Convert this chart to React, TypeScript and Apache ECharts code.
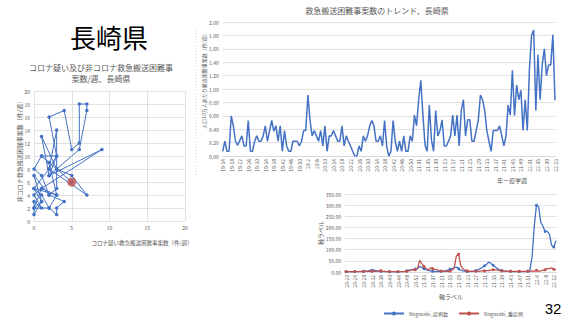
import React, { useEffect, useRef } from "react";
import * as echarts from "echarts";

// ---- Scatter (left): corona-suspected (x) vs non-corona (y) difficult transports / week
const scatterX = [0, 1, 0, 0, 1, 0, 1, 0, 2, 1, 0, 1, 0, 2, 1, 0, 1, 2, 3, 1, 2, 3, 2, 3, 3, 2, 4, 3, 3, 2, 3, 1, 9, 2, 6, 7, 7, 6, 6, 5, 4, 2, 3, 1, 2, 3, 0, 2, 7, 5, 3, 5];
const scatterY = [2, 3, 1, 3, 2, 4, 5, 2, 2, 4, 5, 3, 7, 4, 7, 8, 10, 9, 8, 13, 7, 10, 8, 14, 5, 4, 3, 2, 1, 2, 4, 5, 11, 7, 11, 17, 18, 18, 12, 11, 17, 16, 10, 10, 9, 4, 5, 8, 4, 7, 8, 6];
const latestPoint = [5, 6];

// ---- Trend (top right): per 100k population, 19-14 .. 22-13
const trendYears = [
  { yy: "19", from: 14, to: 52, pad: false },
  { yy: "20", from: 1, to: 53, pad: false },
  { yy: "21", from: 1, to: 52, pad: true },
  { yy: "22", from: 1, to: 13, pad: true },
];
const trendValues = [
  0.07, 0.22, 0.07, 0.07, 0.60, 0.45, 0.22, 0.16, 0.23, 0.30,
  0.15, 0.15, 0.53, 0.07, 0.07, 0.22, 0.30, 0.22, 0.22, 0.30,
  0.45, 0.22, 0.38, 0.53, 0.37, 0.45, 0.22, 0.45, 0.07, 0.38,
  0.15, 0.07, 0.07, 0.22, 0.22, 0.22, 0.15, 0.22, 0.38, 0.38,
  0.91, 0.53, 0.30, 0.38, 0.30, 0.22, 0.38, 0.15, 0.45, 0.07,
  0.30, 0.30, 0.38, 0.30, 0.22, 0.22, 0.45, 0.15, 0.30, 0.22,
  0.15, 0.07, 0.00, 0.00, 0.15, 0.07, 0.30, 0.22, 0.30, 0.45,
  0.53, 0.45, 0.22, 0.22, 0.30, 0.15, 0.53, 0.14, 0.00, 0.07,
  0.53, 0.22, 0.07, 0.22, 0.07, 0.30, 0.07, 0.07, 0.30, 0.22,
  0.61, 0.45, 0.84, 1.13, 0.61, 0.16, 0.07, 0.76, 0.24, 0.07,
  0.68, 0.30, 0.38, 0.54, 0.15, 0.15, 0.22, 0.30, 0.61, 0.30,
  0.61, 0.15, 0.68, 0.84, 0.30, 0.54, 0.54, 0.22, 0.22, 0.38,
  0.54, 0.91, 0.84, 0.68, 0.38, 0.22, 0.07, 0.38, 0.38, 0.38,
  0.45, 0.30, 0.15, 0.30, 0.76, 0.61, 1.28, 0.60, 1.06, 0.84,
  0.98, 0.38, 0.84, 0.38, 1.30, 1.80, 1.88, 0.68, 1.51, 0.84,
  1.36, 1.60, 1.20, 1.36, 1.36, 1.81, 0.83,
];

// ---- Cases (bottom right): 20-20 .. 22-13
const caseYears = [
  { yy: "20", from: 20, to: 53, pad: false },
  { yy: "21", from: 1, to: 51, pad: true },
  { yy: "22", from: 1, to: 13, pad: false },
];
const casesValues = [
  1, 1, 1, 1, 2, 2, 2, 3, 3, 4,
  5, 7, 8, 8, 6, 4, 3, 2, 2, 2,
  1, 1, 1, 1, 1, 1, 2, 3, 5, 8,
  10, 12, 13, 15, 25, 20, 15, 10, 7, 5,
  3, 2, 2, 2, 3, 4, 6, 8, 12, 15,
  18, 22, 15, 8, 5, 3, 2, 2, 3, 4,
  6, 10, 15, 20, 28, 35, 45, 38, 30, 22,
  15, 10, 7, 5, 4, 3, 3, 2, 2, 2,
  2, 2, 2, 2, 3,
  10, 70, 208, 299, 293, 223, 205, 182, 182, 170, 120, 112, 140,
];
const severeValues = [
  2, 2, 2, 2, 2, 2, 2, 2, 2, 3,
  3, 3, 3, 3, 3, 4, 6, 4, 3, 2,
  2, 2, 2, 2, 2, 2, 2, 2, 3, 5,
  8, 10, 10, 15, 52, 38, 25, 15, 10, 18,
  15, 12, 10, 6, 4, 3, 3, 3, 4, 8,
  20, 72, 80, 30, 15, 8, 5, 4, 3, 3,
  3, 3, 4, 5, 5, 6, 6, 8, 10, 10,
  8, 6, 5, 4, 3, 3, 3, 3, 3, 3,
  3, 3, 3, 3, 3,
  3, 5, 3, 8, 3, 5, 8, 10, 15, 15, 18, 12, 10,
];

const seriesNames = ["Nagasaki_症例数", "Nagasaki_重症例"];

function buildWeeks(years: { yy: string; from: number; to: number; pad: boolean }[]) {
  const out: string[] = [];
  years.forEach((y) => {
    for (let w = y.from; w <= y.to; w++) {
      out.push(y.yy + "-" + (y.pad && w < 10 ? "0" + w : String(w)));
    }
  });
  return out;
}

const FONT = "'Noto Sans CJK JP', 'Noto Sans', sans-serif";
const GRAY = "#595959";
const GRID = "#d9d9d9";
const BLUE = "#4472C4";
const RED = "#C0504D";

export default function App() {
  const ref = useRef<HTMLDivElement>(null);
  useEffect(() => {
    if (!ref.current) return;
    const chart = echarts.init(ref.current, undefined, { renderer: "svg" });
    const trendWeeks = buildWeeks(trendYears);
    const caseWeeks = buildWeeks(caseYears);
    const scatterData = scatterX.map((x, i) => [x, scatterY[i]]);
    const small = { fontSize: 5, color: GRAY, fontFamily: FONT };

    chart.setOption({
      animation: false,
      textStyle: { fontFamily: FONT },
      grid: [
        { left: 34, top: 91, width: 151, height: 130 },
        { left: 222.7, top: 22, width: 332.3, height: 134 },
        { left: 345, top: 194, width: 212, height: 78 },
      ],
      xAxis: [
        {
          type: "value", gridIndex: 0, min: 0, max: 20, interval: 5,
          axisLine: { show: false }, axisTick: { show: false },
          splitLine: { lineStyle: { color: GRID, width: 0.8 } },
          axisLabel: { ...small, margin: 4 },
        },
        {
          type: "category", gridIndex: 1, data: trendWeeks, boundaryGap: false,
          axisLine: { lineStyle: { color: GRID } }, axisTick: { show: false },
          axisLabel: { ...small, interval: 3, rotate: 90, margin: 3 },
        },
        {
          type: "category", gridIndex: 2, data: caseWeeks, boundaryGap: true,
          axisLine: { lineStyle: { color: GRID } }, axisTick: { show: false },
          axisLabel: { ...small, interval: 3, rotate: 90, margin: 3 },
        },
      ],
      yAxis: [
        {
          type: "value", gridIndex: 0, min: 0, max: 20, interval: 2,
          axisLine: { show: false }, axisTick: { show: false },
          splitLine: { lineStyle: { color: GRID, width: 0.8 } },
          axisLabel: { ...small, margin: 4 },
        },
        {
          type: "value", gridIndex: 1, min: 0, max: 2, interval: 0.2,
          axisLine: { show: false }, axisTick: { show: false },
          splitLine: { lineStyle: { color: GRID, width: 0.8 } },
          axisLabel: { ...small, margin: 4, formatter: (v: number) => v.toFixed(2) },
        },
        {
          type: "value", gridIndex: 2, min: 0, max: 350, interval: 50,
          axisLine: { show: false }, axisTick: { show: false },
          splitLine: { lineStyle: { color: GRID, width: 0.8 } },
          axisLabel: { ...small, margin: 4, formatter: (v: number) => v.toFixed(2) },
        },
      ],
      legend: {
        data: seriesNames,
        left: 378, top: 306,
        itemWidth: 20, itemHeight: 5, itemGap: 10,
        textStyle: { fontSize: 5, color: GRAY, fontFamily: FONT },
      },
      series: [
        {
          type: "line", xAxisIndex: 0, yAxisIndex: 0, data: scatterData,
          symbol: "circle", symbolSize: 3.5,
          lineStyle: { color: BLUE, width: 1 }, itemStyle: { color: BLUE },
        },
        {
          type: "scatter", xAxisIndex: 0, yAxisIndex: 0, data: [latestPoint],
          symbolSize: 9, itemStyle: { color: RED }, z: 5,
        },
        {
          type: "line", xAxisIndex: 1, yAxisIndex: 1, data: trendValues,
          showSymbol: false, lineStyle: { color: BLUE, width: 1.5 },
          itemStyle: { color: BLUE },
        },
        {
          name: seriesNames[0], type: "line", xAxisIndex: 2, yAxisIndex: 2, data: casesValues,
          symbol: "circle", symbolSize: 3,
          lineStyle: { color: BLUE, width: 1.3 }, itemStyle: { color: BLUE },
        },
        {
          name: seriesNames[1], type: "line", xAxisIndex: 2, yAxisIndex: 2, data: severeValues,
          symbol: "circle", symbolSize: 3,
          lineStyle: { color: RED, width: 1.3 }, itemStyle: { color: RED },
        },
      ],
      graphic: [
        {
          type: "text", x: 109, y: 36,
          style: { text: "長崎県", fontSize: 26, fill: "#000", fontFamily: FONT, textAlign: "center", textVerticalAlign: "middle" },
        },
        {
          type: "text", x: 101, y: 67,
          style: { text: "コロナ疑い及び非コロナ救急搬送困難事", fontSize: 8, fill: GRAY, fontFamily: FONT, textAlign: "center", textVerticalAlign: "middle" },
        },
        {
          type: "text", x: 101, y: 78,
          style: { text: "案数/週、長崎県", fontSize: 8, fill: GRAY, fontFamily: FONT, textAlign: "center", textVerticalAlign: "middle" },
        },
        {
          type: "text", x: 19, y: 150, rotation: Math.PI / 2,
          style: { text: "非コロナ救急搬送困難事案数（件/週）", fontSize: 6, fill: GRAY, fontFamily: FONT, textAlign: "center", textVerticalAlign: "middle" },
        },
        {
          type: "text", x: 142, y: 243,
          style: { text: "コロナ疑い救急搬送困難事案数（件/週）", fontSize: 5.5, fill: GRAY, fontFamily: FONT, textAlign: "center", textVerticalAlign: "middle" },
        },
        {
          type: "text", x: 377, y: 10,
          style: { text: "救急搬送困難事案数のトレンド、長崎県", fontSize: 8, fill: GRAY, fontFamily: FONT, textAlign: "center", textVerticalAlign: "middle" },
        },
        {
          type: "text", x: 203, y: 80, rotation: Math.PI / 2,
          style: { text: "人口10万人あたり搬送困難事案数（件/週）", fontSize: 5, fill: GRAY, fontFamily: FONT, textAlign: "center", textVerticalAlign: "middle" },
        },
        {
          type: "text", x: 512, y: 180,
          style: { text: "年ー疫学週", fontSize: 6, fill: GRAY, fontFamily: FONT, textAlign: "center", textVerticalAlign: "middle" },
        },
        {
          type: "text", x: 320, y: 233, rotation: Math.PI / 2,
          style: { text: "軸ラベル", fontSize: 6, fill: GRAY, fontFamily: FONT, textAlign: "center", textVerticalAlign: "middle" },
        },
        {
          type: "text", x: 451, y: 296,
          style: { text: "軸ラベル", fontSize: 6, fill: GRAY, fontFamily: FONT, textAlign: "center", textVerticalAlign: "middle" },
        },
        {
          type: "text", x: 553, y: 308,
          style: { text: "32", fontSize: 15, fill: "#000", fontFamily: "'Liberation Sans', sans-serif", textAlign: "center", textVerticalAlign: "middle" },
        },
        {
          type: "line", shape: { x1: 196, y1: 30, x2: 196, y2: 175 },
          style: { stroke: "#c8c8c8", lineWidth: 0.8, lineDash: [1, 2] },
        },
      ],
    });
    return () => chart.dispose();
  }, []);
  return (
    <div
      ref={ref}
      style={{ position: "fixed", left: 0, top: 0, width: 569, height: 320, background: "#fff" }}
    />
  );
}
